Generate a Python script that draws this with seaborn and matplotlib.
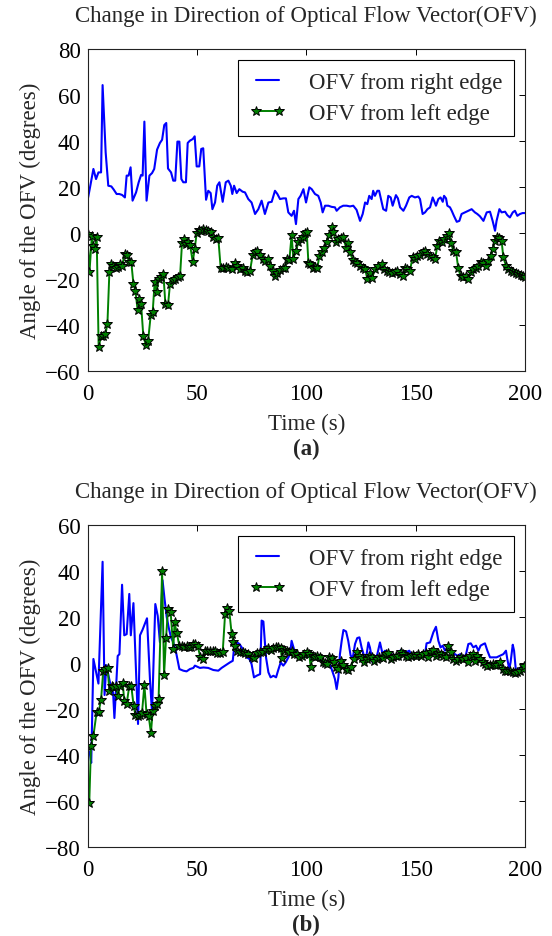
import numpy as np
import pandas as pd
import matplotlib
matplotlib.use("Agg")
import matplotlib.pyplot as plt
import seaborn as sns

# ---- data: (time in s, angle in degrees) ----
right_a = [
    (0, 14), (1.0, 19), (2.7, 27.8), (3.9, 23.4), (5.0, 26.3), (6.2, 26.3), (6.9, 64.3), (8.3, 35),
    (9.5, 20.5), (10.9, 20.2), (12.0, 18.8), (13.3, 16.9), (14.5, 16.9), (15.8, 16.5), (17.1, 15.4),
    (17.9, 24.9), (18.8, 24.9), (19.7, 28.5), (20.6, 14), (22.2, 17.6), (23.4, 22), (24.5, 25.2),
    (25.2, 24.9), (26.0, 48.4), (27.0, 14), (28.3, 24.9), (29.5, 26), (30.5, 27.8), (31.8, 36.2),
    (33.1, 39.1), (34.1, 40.5), (35.1, 46.9), (36.0, 47.8), (36.8, 28), (38.2, 26.3), (39.2, 22.7),
    (40.1, 22.7), (41.1, 39.7), (42.0, 39.7), (42.9, 23.4), (43.8, 22), (45.0, 22), (45.8, 39.1),
    (46.8, 40.1), (48.1, 40.8), (49.0, 42), (49.9, 28.9), (51.1, 28.9), (52.0, 36.5), (52.9, 36.8),
    (54.2, 14.4), (55.2, 18.3), (56.3, 17.3), (57.1, 10.3), (58.3, 13.2), (59.3, 20.5), (60.3, 22),
    (61.8, 13.5), (63.2, 22), (64.4, 22.7), (65.5, 20.5), (66.2, 16.9), (67.0, 20.5), (68.2, 17.3),
    (69.4, 19), (70.9, 17.9), (72.0, 17.6), (73.5, 14.7), (75.0, 13.2), (76.6, 8.2), (78.1, 10.3),
    (79.6, 14), (81.1, 8.2), (82.7, 13.2), (84.2, 13.5), (85.7, 18.3), (86.8, 16.9), (88.0, 14.7),
    (89.5, 15), (90.7, 15), (91.8, 8.9), (93.3, 7.4), (94.4, 9.6), (95.3, 3.8), (96.4, 14.7),
    (97.4, 16.1), (98.7, 19), (99.9, 13.2), (101.4, 19.8), (102.5, 19), (104.0, 16.9), (105.5, 16.1),
    (106.6, 13.2), (107.5, 8.9), (108.6, 11.8), (110.1, 11.8), (111.6, 11.3), (113.1, 11.1),
    (113.9, 9.6), (115.4, 11.1), (116.9, 11.8), (118.5, 11.8), (120.0, 11.5), (121.5, 11.8),
    (123.0, 10), (124.6, 5.2), (125.8, 8.2), (126.9, 13.2), (127.9, 12.5), (128.8, 16.1),
    (129.9, 14.7), (130.6, 18.3), (131.4, 16.1), (132.5, 18.3), (133.3, 18.3), (135.2, 10.3),
    (136.5, 9.6), (137.5, 16.1), (138.6, 15.4), (139.5, 11.8), (141.0, 16.4), (141.9, 15),
    (142.9, 11.1), (144.4, 9.6), (145.6, 11.8), (147.1, 15.4), (148.2, 16.1), (149.7, 15.4),
    (151.2, 15.8), (152.0, 14.7), (153.2, 8.2), (154.3, 8.9), (155.4, 10.3), (156.6, 11.1),
    (157.8, 15.4), (158.4, 14), (159.3, 11.8), (160.4, 14.7), (161.4, 15.4), (162.4, 13.5),
    (163.0, 16.1), (163.9, 15), (164.5, 11.8), (165.7, 11.1), (166.5, 9.6), (167.5, 7.4),
    (168.8, 4.8), (170.0, 5.2), (171.0, 8.2), (172.6, 8.9), (174.1, 9.6), (175.6, 10.3),
    (177.1, 8.9), (178.2, 8.2), (179.4, 7.2), (181.0, 5.2), (182.5, 8.9), (184.0, 9.2), (185.2, 5.2),
    (186.3, 0.9), (187.0, 5.2), (188.3, 10.3), (189.3, 8.9), (190.9, 9.2), (191.9, 7.7), (193.1, 6.7),
    (194.4, 8.9), (195.4, 9.6), (196.5, 7.4), (197.7, 8.2), (198.9, 8.6), (200, 8.6),
]

left_a = [
    (0, -0.5), (0.9, -17.2), (2.0, -1.3), (2.7, -5.6), (3.3, -7), (4.2, -2), (5.1, -49.9), (6.2, -44.8),
    (7.2, -44.8), (8.2, -44.1), (9.1, -39.7), (10.0, -17.2), (10.9, -13.6), (11.8, -14.3), (13.0, -15.5),
    (14.0, -15), (15.0, -13.6), (15.8, -14.6), (17.0, -9), (17.9, -9.7), (19.1, -12.9), (20.0, -12.6),
    (21.0, -22.3), (21.9, -25.2), (22.9, -33.5), (23.7, -28.8), (24.5, -31), (25.5, -44.8), (26.7, -48.9),
    (27.7, -47), (28.9, -35.8), (29.8, -34.4), (30.7, -21.6), (31.6, -25.6), (32.5, -20.1), (33.6, -19.4),
    (34.7, -18), (35.6, -31), (36.8, -31.5), (37.7, -22.3), (38.9, -20.4), (40.0, -20.1), (41.2, -19.4),
    (42.3, -19), (43.2, -4.5), (44.1, -2.7), (45.0, -4.9), (45.9, -4.2), (46.9, -5.3), (48.1, -12.6),
    (49.0, -7), (49.9, -0.2), (50.8, 1.3), (52.0, 0.9), (52.9, 1.6), (54.2, 1.3), (55.2, 0.9), (56.3, 0.5),
    (57.5, -2), (58.7, -2.7), (59.8, -2.4), (60.9, -15.5), (62.1, -15.1), (63.3, -14.8), (64.4, -15.1),
    (65.9, -15.8), (67.2, -13.2), (68.5, -14.3), (69.7, -15.8), (70.9, -15.1), (72.0, -16.5),
    (73.1, -17.2), (74.3, -16.5), (75.5, -9.7), (76.6, -8.5), (77.6, -7.8), (78.9, -9.7), (80.1, -11.2),
    (81.3, -12.2), (82.7, -11.4), (83.4, -14.3), (84.6, -16.5), (85.7, -18.7), (86.8, -17.5),
    (88.0, -16.1), (89.2, -15.5), (90.3, -15.1), (91.0, -11.4), (92.3, -11.7), (93.3, -1), (94.1, -11.2),
    (95.3, -7.8), (96.4, -4.2), (97.4, -2.7), (98.4, -2), (99.4, -0.1), (100.2, 0.5), (101.0, -13.2),
    (101.7, -13.6), (102.9, -15.1), (104.0, -14.8), (105.1, -15.1), (106.0, -10), (107.1, -8.5),
    (108.1, -6.4), (109.3, -3.9), (110.6, -1), (111.6, 2.4), (112.4, 0.2), (113.6, -3.9), (114.7, -2.7),
    (115.7, -2.4), (116.9, -2), (118.2, -6.4), (119.2, -4.5), (120.0, -8.5), (121.2, -11.7),
    (122.3, -12.9), (123.3, -13.2), (124.6, -14.3), (125.8, -15.1), (126.9, -15.8), (127.9, -19.9),
    (129.1, -17.5), (130.2, -19.5), (131.4, -15.8), (132.9, -14.6), (134.5, -13.6), (135.5, -15.8),
    (136.8, -16.5), (138.0, -17.2), (139.1, -17.5), (140.6, -17), (141.6, -16.5), (142.9, -18),
    (144.1, -19), (145.1, -15.5), (146.2, -15.8), (147.4, -16.5), (148.6, -10.7), (149.7, -11.2),
    (150.8, -10.3), (152.0, -9.7), (153.2, -8.5), (154.3, -7.8), (155.4, -9.3), (156.6, -10),
    (157.8, -10.7), (158.9, -11.2), (159.9, -5.9), (160.8, -3.5), (161.9, -4.2), (163.0, -2.7),
    (164.2, -1.3), (165.3, -0.1), (166.2, -4.5), (167.2, -7.8), (168.5, -8.5), (169.5, -15.5),
    (170.6, -19), (171.8, -19.4), (173.0, -19), (174.1, -19.9), (175.2, -17), (176.4, -15.8),
    (177.6, -15.1), (178.7, -14.6), (179.7, -12.9), (181.0, -13.2), (182.2, -14.3), (183.2, -12.2),
    (184.3, -10), (185.2, -7.1), (186.3, -3.5), (187.4, -1.6), (188.3, -2.4), (189.3, -3.5),
    (190.1, -10.7), (191.3, -14.3), (192.4, -15.8), (193.4, -16.5), (194.7, -17.2), (195.9, -17.5),
    (196.9, -18), (198.0, -18.5), (199.2, -19), (200, -19.4),
]

right_b = [
    (0, -38), (1.0, -39), (1.7, -43.5), (2.7, 1.7), (3.9, -4), (5.0, -9), (6.9, 44), (7.8, -14),
    (8.6, -1), (9.5, -5), (10.6, -10), (11.7, -13), (12.3, -24), (13.0, -12), (13.8, 3), (14.6, 3.8),
    (15.8, 34), (16.8, 12), (17.9, 12.5), (19.1, 30), (19.8, 12), (21.0, 26), (21.9, 3), (23.1, -26.6),
    (24.0, 12), (25.2, 14.5), (26.4, 17.5), (27.2, 19.4), (28.6, -8), (29.5, -21.6), (31.0, 25.6),
    (32.1, 20.5), (33.1, 9), (34.3, 36), (35.2, 28), (36.2, 20), (37.2, 15), (38.2, 11), (39.2, 9),
    (40.4, 5), (42.0, -2.7), (43.8, -3.4), (45.3, -3.7), (46.8, -2.7), (48.4, -2.2), (49.1, -1.2),
    (50.2, -1.7), (51.4, -2.2), (53.0, -2), (55.2, -2.2), (57.5, -3.1), (59.8, -3.4), (61.3, -2.2),
    (62.9, -1.2), (65.1, 0.2), (66.4, 0.9), (67.2, 8.2), (68.4, 8.9), (69.5, 8.2), (70.5, 6.7),
    (71.5, 5.3), (72.8, 2.4), (74.0, 1.7), (75.0, -0.5), (76.1, -6.3), (77.3, -5.6), (78.9, -4.9),
    (79.6, 18.4), (80.4, 18), (81.6, 2.4), (82.7, -4.1), (83.7, -6.3), (85.0, -5.6), (86.2, -6.3),
    (87.2, -3.1), (88.3, 0.2), (89.5, -1.2), (90.6, 0.2), (91.8, 2.4), (92.6, 3.8), (93.3, 9.6),
    (94.4, 6), (95.6, 4.6), (97.1, 3.1), (98.7, 2.4), (100.2, 3.1), (101.7, 2.4), (103.2, 1.7),
    (104.8, 3.1), (106.3, 1.7), (107.8, 0.2), (109.3, -0.2), (110.9, -0.8), (112.1, -4.1), (113.1, -7),
    (113.9, -11.4), (114.7, -6.3), (115.4, 3.8), (116.2, 9.6), (117.0, 14.3), (118.2, 13.7),
    (119.2, 9.6), (120.3, 3.1), (121.3, 2.4), (122.3, 8.2), (123.3, 10.8), (124.3, 11.1), (125.3, 6.7),
    (126.4, 3.1), (127.4, 2.4), (128.4, 8.9), (129.1, 6.7), (130.4, 0), (131.4, 1.7), (132.5, 3.8),
    (133.7, 8.9), (134.9, 3.8), (136.0, 5.3), (137.1, 4.1), (138.3, 3.1), (139.5, 3.6), (140.6, 2.4),
    (141.8, 3.1), (143.2, 5.6), (144.4, 4.1), (145.6, 4.6), (147.1, 5.3), (148.2, 3.1), (149.7, 3.8),
    (151.2, 3.1), (152.8, 3.8), (154.3, 3.8), (155.0, 8.5), (156.6, 8.9), (158.1, 13.3), (159.3, 15.7),
    (160.4, 9.6), (161.4, 6.7), (162.4, 7.5), (163.4, 5.3), (164.5, 6.7), (165.7, 4.6), (166.9, 3.8),
    (168.0, 3.8), (169.1, 3.1), (170.4, 3.8), (171.8, 2.4), (173.0, 3.6), (174.1, 8.2), (175.2, 8.5),
    (176.4, 6.7), (177.6, 7.5), (178.7, 5.3), (179.7, 7.5), (181.0, 8.2), (181.7, 8.5), (182.8, 5.3),
    (184.0, 2.4), (185.5, 2.4), (187.0, 2.4), (188.6, 3.1), (190.1, 3.8), (191.3, 5.3), (191.9, 1.7),
    (192.8, -2.7), (193.4, 0.2), (194.4, 7.9), (195.0, 5.3), (195.9, -4.1), (197.0, -2.7), (198.0, -2),
    (199.2, -1.2), (200, -0.5),
]

left_b = [
    (0.8, -61), (1.6, -36), (2.7, -31.7), (4.2, -21.3), (5.1, -21.3), (6.2, -16), (7.2, -3.4),
    (8.2, -2.7), (9.2, -2.4), (10.0, -12.1), (11.0, -10), (11.8, -10.7), (13.0, -10), (13.8, -14.6),
    (14.9, -10), (16.1, -8.8), (16.8, -16.5), (17.9, -17.9), (19.1, -10), (20.0, -10), (21.1, -18.7),
    (21.9, -22.7), (22.9, -23), (24.0, -22.7), (24.9, -21.9), (26.0, -9.7), (27.0, -22.3), (28.0, -23.3),
    (29.0, -30.6), (29.8, -20.8), (30.7, -18.7), (31.6, -17.9), (32.5, -15.8), (34.1, 39.8), (35.0, -5.3),
    (35.9, 10.7), (36.8, 23.4), (38.0, 22.3), (39.2, 6), (39.8, 17.6), (40.8, 13), (42.0, 7.5),
    (43.0, 7.2), (44.1, 6.7), (45.3, 7.2), (46.2, 6.7), (47.3, 6.7), (48.4, 8.2), (49.3, 8.2),
    (50.4, 7.2), (51.6, 2.4), (52.6, 1.9), (53.7, 5.3), (54.8, 5.3), (56.0, 5), (57.2, 5), (58.3, 5),
    (59.3, 4.1), (60.6, 4.1), (61.8, 4.6), (62.9, 21.3), (63.9, 23.9), (64.8, 22.7), (65.9, 12.6),
    (66.7, 8.9), (67.4, 7.5), (68.5, 5.3), (69.7, 4.6), (70.9, 4.6), (72.0, 4.1), (73.5, 3.8),
    (75.0, 2.7), (76.1, 2.1), (77.6, 4.1), (78.9, 4.6), (80.4, 4.6), (81.6, 5.6), (82.7, 6.5),
    (83.7, 5.6), (85.0, 6.5), (86.2, 7), (87.2, 6.7), (88.3, 6.5), (88.8, 2.1), (89.8, 5.6), (91.1, 5),
    (92.3, 4.6), (93.3, 5), (94.4, 3.8), (95.6, 3.8), (96.8, 2.4), (97.9, 3.1), (99.0, 3.8),
    (100.2, 4.6), (101.4, 3.8), (102.0, -1.7), (102.9, 3.1), (104.0, 2.4), (105.1, 3.1), (106.3, 2.4),
    (107.5, 0.2), (108.6, -0.2), (109.6, -0.5), (110.5, 2.4), (111.6, 2.1), (112.7, 0.2), (113.6, -2),
    (114.7, -2.7), (115.7, 0.9), (117.0, -0.8), (118.2, -2.7), (119.2, -3.1), (120.3, -2), (121.8, 1.7),
    (123.1, 4.6), (124.3, 3.1), (125.3, 2.1), (126.4, 0.2), (127.6, 1.7), (128.8, 3.1), (129.9, 2.4),
    (131.0, 0.9), (132.2, 1.7), (133.4, 2.7), (134.4, 2.4), (135.2, 2.1), (136.5, 3.8), (137.5, 4.1),
    (138.6, 1.7), (139.8, 2.4), (141.0, 3.1), (142.1, 3.1), (143.2, 4.6), (144.4, 3.8), (145.6, 3.1),
    (146.7, 2.7), (147.7, 3.1), (149.0, 3.6), (150.2, 3.1), (151.2, 3.8), (152.3, 3.1), (153.5, 3.8),
    (154.7, 4.1), (155.8, 2.7), (156.9, 4.6), (158.1, 5.6), (159.3, 3.1), (160.4, 4.1), (161.4, 3.8),
    (162.7, 3.1), (163.9, 2.4), (165.0, 7.5), (166.0, 4.6), (167.2, 1.7), (168.5, 0.9), (169.5, 1.7),
    (170.6, 2.4), (171.8, 1.7), (173.0, 2.1), (174.1, 0.2), (174.9, 3.1), (176.1, 3.8), (177.1, 0.9),
    (178.2, 3.1), (179.4, 1.7), (180.6, 0.2), (181.7, -0.5), (182.8, -1.2), (184.0, -0.8),
    (185.2, -0.5), (186.3, -0.8), (187.4, -0.8), (188.6, 0.2), (189.8, -2.7), (190.9, -3.4),
    (191.9, -3.7), (193.1, -3.4), (194.4, -4.1), (195.4, -4.6), (196.5, -4.1), (197.7, -3.4),
    (198.9, -2.7), (199.7, -1.2),
]

title_text = "Change in Direction of Optical Flow Vector(OFV)"
x_label = "Time (s)"
y_label = "Angle of the OFV (degrees)"
label_right = "OFV from right edge"
label_left = "OFV from left edge"
x_ticks = [0, 50, 100, 150, 200]
y_ticks_a = [-60, -40, -20, 0, 20, 40, 60, 80]
y_ticks_b = [-80, -60, -40, -20, 0, 20, 40, 60]
panel_tags = ["(a)", "(b)"]

# ---- style ----
sns.set_theme(style="white")
plt.rcParams["font.family"] = ["Liberation Serif", "DejaVu Serif"]
plt.rcParams["axes.unicode_minus"] = True
FS = 16.5

BLUE = "#0000ff"
GREEN = "#008000"

W, H = 552, 937
fig = plt.figure(figsize=(W / 100, H / 100), dpi=100)
fig.patch.set_facecolor("white")


def frame(series):
    return pd.DataFrame(series, columns=["t", "angle"])


def draw_panel(ax, right, left, yticks, tag, spine_top_px, spine_bot_px):
    sns.lineplot(data=frame(right), x="t", y="angle", ax=ax, color=BLUE, lw=1.5,
                 sort=False, estimator=None, label=label_right)
    sns.lineplot(data=frame(left), x="t", y="angle", ax=ax, color=GREEN, lw=1.4,
                 sort=False, estimator=None, label=label_left,
                 marker="*", markersize=7.5, markerfacecolor=GREEN,
                 markeredgecolor="black", markeredgewidth=0.7)
    ax.set_xlim(0, 200)
    ax.set_ylim(yticks[0], yticks[-1])
    ax.set_xticks(x_ticks)
    ax.set_yticks(yticks)
    ax.tick_params(direction="in", length=4, width=0.7, top=True, right=True,
                   labelsize=FS, pad=5, colors="black")
    ax.tick_params(axis="x", pad=9)
    for s in ax.spines.values():
        s.set_color("#222222")
        s.set_linewidth(0.8)
    ax.set_facecolor("white")
    ax.set_xlabel(x_label, fontsize=FS, labelpad=6)
    ax.set_ylabel(y_label, fontsize=FS, labelpad=3)
    leg = ax.legend(loc="upper right", fontsize=FS, numpoints=2, fancybox=False,
                    framealpha=1, edgecolor="black", borderaxespad=0.5,
                    handlelength=1.6, handletextpad=1.0, labelspacing=0.45,
                    borderpad=0.5)
    leg.get_frame().set_linewidth(0.8)
    xc = (87.5 + 525) / 2 / W
    fig.text(xc, 1 - (spine_top_px - 34) / H, title_text, ha="center", va="center", fontsize=FS)
    fig.text(xc, 1 - (spine_bot_px + 78) / H, tag, ha="center", va="center",
             fontsize=FS, fontweight="bold")


left_f = 87.5 / W
width_f = (525 - 87.5) / W
height_f = 321.7 / H

ax_a = fig.add_axes([left_f, 1 - 371.7 / H, width_f, height_f])
ax_b = fig.add_axes([left_f, 1 - 847.7 / H, width_f, height_f])

draw_panel(ax_a, right_a, left_a, y_ticks_a, panel_tags[0], 50, 371.7)
draw_panel(ax_b, right_b, left_b, y_ticks_b, panel_tags[1], 526, 847.7)

fig.savefig("out.png", dpi=100, facecolor="white")
